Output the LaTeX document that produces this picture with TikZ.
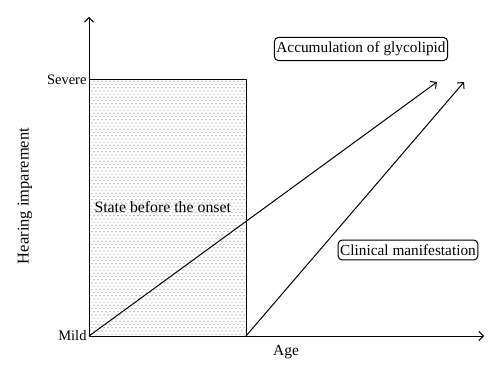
\documentclass[tikz,border=0pt]{standalone}
\usepackage{fontspec}
\setmainfont{Liberation Serif}
\usepackage{tikz}
\usetikzlibrary{patterns}
\usetikzlibrary{arrows.meta}
\tikzset{>={Straight Barb[length=4.5pt, width=9pt]}}
\tikzset{tag/.style={draw, rounded corners=4pt, inner xsep=2pt, inner ysep=4.5pt, font=\fontsize{15.3}{17}\selectfont}}
\pgfdeclarepatternformonly{finedots}{\pgfqpoint{-1pt}{-1pt}}{\pgfqpoint{3pt}{4.2pt}}{\pgfqpoint{4pt}{6.4pt}}{%
    \pgfpathcircle{\pgfqpoint{0pt}{0pt}}{0.55pt}%
    \pgfpathcircle{\pgfqpoint{2pt}{3.2pt}}{0.55pt}%
    \pgfusepath{fill}}

\begin{document}
\begin{tikzpicture}[x=1pt, y=-1pt, line width=1pt, font=\fontsize{14.5}{16}\selectfont]
    \useasboundingbox (0, 0) rectangle (500, 379);
    \coordinate (O) at (89, 336);
    \coordinate (onset) at (246, 336);
    \draw[pattern=finedots, pattern color=black!55] (O) rectangle (246, 80);
    \draw[->] (O)--(89, 17);
    \draw[->] (O)--(484, 336);
    \node[left, inner sep=1pt] (severe) at (88, 80) {Severe};
    \node[left, inner sep=1pt] (mild) at (88, 336) {Mild};
    \node[rotate=90, font=\fontsize{16.5}{18}\selectfont] (ylab) at (25, 196) {Hearing imparement};
    \node[font=\fontsize{15.5}{17}\selectfont] (xlab) at (286, 352) {Age};
    \node[right, inner sep=1pt, font=\fontsize{15.8}{17}\selectfont] (state) at (93, 207) {State before the onset};
    \coordinate (tip1) at (437, 82);
    \coordinate (tip2) at (464, 82);
    \draw[->] (O)--(tip1);
    \draw[->] (onset)--(tip2);
    \node[tag] (accum) at (361, 49) {Accumulation of glycolipid};
    \node[tag] (clinic) at (408, 250) {Clinical manifestation};
\end{tikzpicture}
\end{document}
